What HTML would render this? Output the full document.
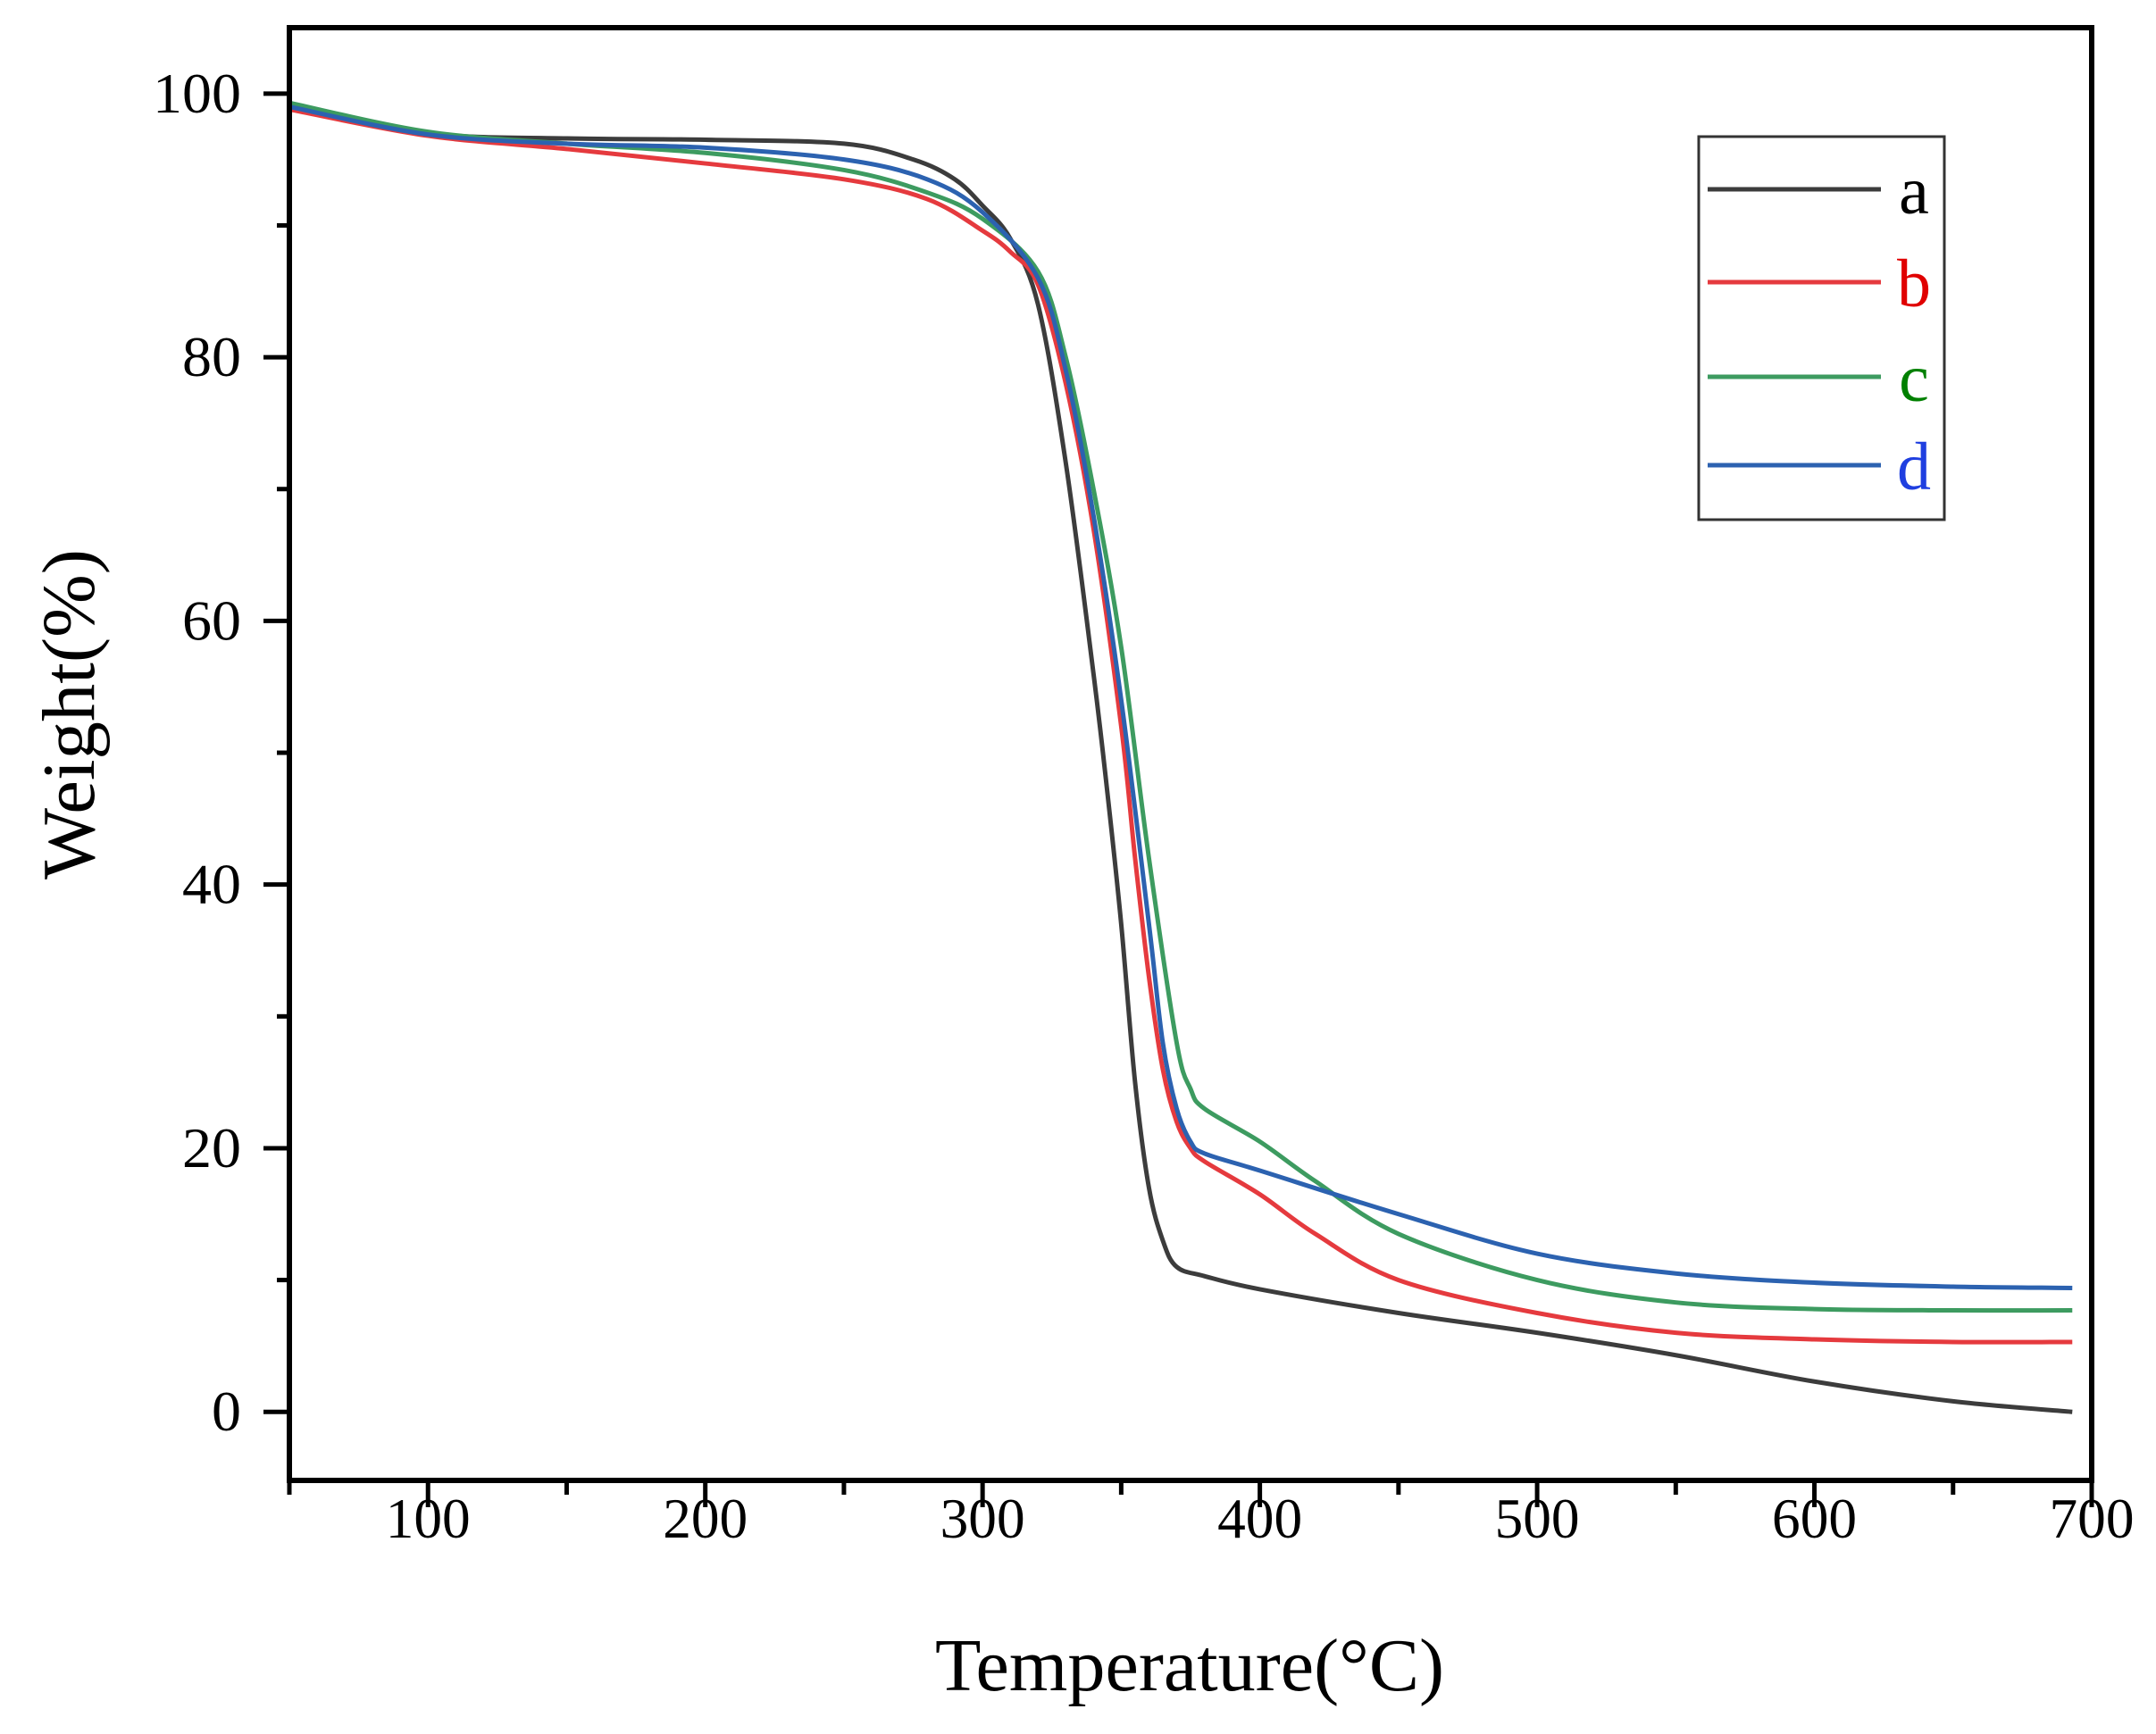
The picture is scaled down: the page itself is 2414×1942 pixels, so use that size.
<!DOCTYPE html>
<html><head><meta charset="utf-8"><style>
html,body{margin:0;padding:0;background:#fff;}
svg{display:block;font-family:"Liberation Serif",serif;}
</style></head><body>
<svg id="chart" width="2414" height="1942" viewBox="0 0 2414 1942" xmlns="http://www.w3.org/2000/svg">
<g id="plot"></g>
</svg>
<script>
const xTicks = [100,200,300,400,500,600,700];
const yTicks = [0,20,40,60,80,100];
const seriesNames = ["a","b","c","d"];
const tempA = [50,100,150,200,250,275,290,300,310,320,330,340,345,350,355,360,365,370,380,400,450,500,550,600,650,693];
const wA = [99.2,97,96.6,96.5,96.2,95,93.5,91.5,89,84,72,56,47,37,25,17,13,11,10.3,9.3,7.5,6,4.3,2.3,0.8,0];
const tempB = [50,100,150,200,250,280,300,310,320,330,340,350,355,360,365,370,375,380,400,420,450,500,550,600,650,693];
const wB = [98.8,96.8,95.8,94.7,93.5,92,89.6,88,85.5,78,67,52,42,33,26,22,20,19,16.5,13.5,10,7.5,6,5.5,5.3,5.3];
const tempC = [50,100,150,200,250,280,300,320,330,340,350,360,370,375,380,400,420,450,500,550,600,650,693];
const wC = [99.3,97.1,96.2,95.5,94.2,92.5,90.5,86.5,80,70,58,42,28,24.5,23,20.5,17.5,13.5,10,8.3,7.8,7.7,7.7];
const tempD = [50,100,150,200,250,280,300,320,330,340,350,360,365,370,375,380,400,450,500,550,600,650,693];
const wD = [99,96.9,96.2,95.9,95,93.5,91,86,79,68,54,37,28,23,20.5,19.6,18.3,15,12,10.5,9.8,9.5,9.4];

const L=324,R=2342,T=31,B=1658;
const X0=50,X1=700,Y0=-5.2,Y1=105;
const xs=t=>L+(t-X0)/(X1-X0)*(R-L);
const ys=v=>B-(v-Y0)/(Y1-Y0)*(B-T);
const NS="http://www.w3.org/2000/svg";
const svg=document.getElementById('chart');
function mk(tag,attrs,parent){const e=document.createElementNS(NS,tag);for(const k in attrs)e.setAttribute(k,attrs[k]);(parent||svg).appendChild(e);return e;}

function pathFrom(ts,ws){
  const p=ts.map((t,i)=>[xs(t),ys(ws[i])]);
  let d=`M${p[0][0]},${p[0][1]}`;
  for(let i=0;i<p.length-1;i++){
    const p0=p[Math.max(0,i-1)],p1=p[i],p2=p[i+1],p3=p[Math.min(p.length-1,i+2)];
    const c1=[p1[0]+(p2[0]-p0[0])/6,p1[1]+(p2[1]-p0[1])/6];
    const c2=[p2[0]-(p3[0]-p1[0])/6,p2[1]-(p3[1]-p1[1])/6];
    d+=` C${c1[0]},${c1[1]} ${c2[0]},${c2[1]} ${p2[0]},${p2[1]}`;
  }
  return d;
}
const lineColors=["#3c3c3c","#e53a3e","#3d9b60","#2c62b0"];
const textColors=["#000","#e00000","#008000","#1f3fe0"];
const allT=[tempA,tempB,tempC,tempD], allW=[wA,wB,wC,wD];
const plot=document.getElementById('plot');
allT.forEach((ts,i)=>{
  const p=mk('path',{d:pathFrom(ts,allW[i]),fill:'none',stroke:lineColors[i],'stroke-width':5,'stroke-linejoin':'round'},plot);
  
  
});

const fr=mk('rect',{x:L,y:T,width:R-L,height:B-T,fill:'none',stroke:'#000','stroke-width':6});



for(let t=50;t<=700;t+=50){
  const major=t%100===0;
  const tk=mk('line',{x1:xs(t),x2:xs(t),y1:B,y2:B+(major?30:16),stroke:'#000','stroke-width':5});
  
  
}
xTicks.forEach(t=>{
  const tx=mk('text',{x:xs(t),y:1722,'text-anchor':'middle','font-size':64,textLength:95,lengthAdjust:'spacingAndGlyphs'});
  tx.textContent=String(t);
  
  
});
for(let v=0;v<=100;v+=10){
  const major=v%20===0;
  const tk=mk('line',{x1:L,x2:L-(major?29:14),y1:ys(v),y2:ys(v),stroke:'#000','stroke-width':5});
  
  
}
yTicks.forEach(v=>{
  const s=String(v);
  const tx=mk('text',{x:270,y:ys(v)+21,'text-anchor':'end','font-size':64,textLength:s.length*33,lengthAdjust:'spacingAndGlyphs'});
  tx.textContent=s;
  
  
});
const xt=mk('text',{x:1332,y:1893,'text-anchor':'middle','font-size':84,textLength:570,lengthAdjust:'spacingAndGlyphs'});
xt.textContent='Temperature(°C)';


const yt=mk('text',{x:0,y:0,'text-anchor':'middle','font-size':84,textLength:370,lengthAdjust:'spacingAndGlyphs',transform:'translate(105,800) rotate(-90)'});
yt.textContent='Weight(%)';



const lg=mk('g',{});


mk('rect',{x:1902,y:153,width:275,height:429,fill:'#fff',stroke:'#333','stroke-width':3},lg);
const legY=[212,316,422,521];
seriesNames.forEach((n,i)=>{
  const ln=mk('line',{x1:1912,x2:2106,y1:legY[i],y2:legY[i],stroke:lineColors[i],'stroke-width':5},lg);
  
  
  const tx=mk('text',{x:2143,y:legY[i]+27,'text-anchor':'middle','font-size':76,fill:textColors[i]},lg);
  tx.textContent=n;
  
  
});
</script>
</body></html>
